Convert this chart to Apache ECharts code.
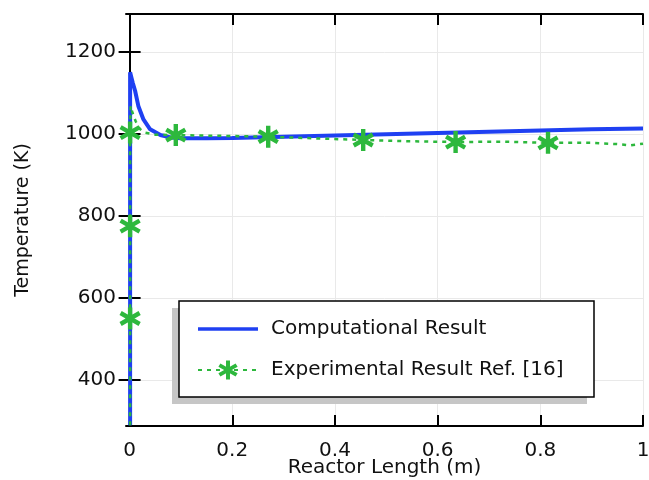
<!DOCTYPE html>
<html>
<head>
<meta charset="utf-8">
<script src="https://cdn.jsdelivr.net/npm/echarts@6/dist/echarts.min.js"></script>
<style>html,body{margin:0;padding:0;background:#fff;}#c{width:649px;height:480px;}</style>
</head>
<body>
<div id="c"></div>
<script>
// Data
var xTicks = [0, 0.2, 0.4, 0.6, 0.8, 1];
var yTicks = [400, 600, 800, 1000, 1200];

var compX = [0.001, 0.001, 0.003, 0.006, 0.0107, 0.017, 0.027, 0.04, 0.06, 0.08, 0.1, 0.15, 0.2, 0.3, 0.4, 0.5, 0.6, 0.7, 0.8, 0.9, 1.0];
var compT = [290, 1150, 1140, 1125, 1105, 1068, 1035, 1011, 997, 991, 989, 989, 990, 993, 996, 999, 1002, 1005, 1008, 1011, 1013];

var expX = [0.001, 0.001, 0.001, 0.001, 0.002, 0.006, 0.012, 0.02, 0.03, 0.05, 0.09, 0.18, 0.27, 0.36, 0.455, 0.545, 0.635, 0.725, 0.815, 0.9, 0.95, 0.975, 1.0];
var expT = [290, 550, 775, 1003, 1068, 1050, 1030, 1012, 1003, 998, 997, 995, 993, 989, 985, 982, 980, 981, 978, 978, 975, 972, 976];
var expMarker = [0, 1, 1, 1, 0, 0, 0, 0, 0, 0, 1, 0, 1, 0, 1, 0, 1, 0, 1, 0, 0, 0, 0];

var seriesNames = ['Computational Result', 'Experimental Result Ref. [16]'];

function zip(a, b) { return a.map(function (v, i) { return [v, b[i]]; }); }

var STAR = 'path://M-2,-10L2,-10L2,10L-2,10Z M7.66,-6.73L9.66,-3.27L-7.66,6.73L-9.66,3.27Z M9.66,3.27L7.66,6.73L-9.66,-3.27L-7.66,-6.73Z';
var LINE_ICON = 'path://M0,0L60,0L60,3.5L0,3.5Z';

var BLUE = '#1f40f2';
var GREEN = '#2db83d';
var FONT = 'DejaVu Sans';
var TXT = '#111';

var chart = echarts.init(document.getElementById('c'), null, {renderer: 'canvas'});

var axisLine = {show: true, lineStyle: {color: '#000', width: 2}};

chart.setOption({
  animation: false,
  backgroundColor: '#fff',
  grid: {left: 126, right: 6, top: 14, bottom: 54, containLabel: false, outerBoundsMode: 'none'},
  xAxis: [{
    type: 'value', min: -0.007, max: 1.0, position: 'bottom',
    name: 'Reactor Length (m)', nameLocation: 'middle', nameGap: 32, nameMoveOverlap: false,
    nameTextStyle: {fontFamily: FONT, fontSize: 20, color: TXT},
    axisLine: axisLine,
    axisTick: {show: true, inside: true, length: 11, customValues: xTicks, lineStyle: {color: '#000', width: 2}},
    axisLabel: {customValues: xTicks, margin: 15, fontFamily: FONT, fontSize: 20, color: TXT,
      formatter: function (v) { return String(Math.round(v * 10) / 10); }},
    splitLine: {show: true, lineStyle: {color: '#e9e9e9', width: 1}}
  }, {
    type: 'value', min: -0.007, max: 1.0, position: 'top',
    axisLine: axisLine,
    axisTick: {show: true, inside: true, length: 11, customValues: xTicks, lineStyle: {color: '#000', width: 2}},
    axisLabel: {show: false}, splitLine: {show: false}
  }],
  yAxis: [{
    type: 'value', min: 288, max: 1292, position: 'left',
    name: 'Temperature (K)', nameLocation: 'middle', nameGap: 93, nameMoveOverlap: false,
    nameTextStyle: {fontFamily: FONT, fontSize: 19, color: TXT},
    axisLine: axisLine,
    axisTick: {show: true, inside: true, length: 11, customValues: yTicks, lineStyle: {color: '#000', width: 2}},
    axisLabel: {customValues: yTicks, margin: 10, fontFamily: FONT, fontSize: 20, color: TXT,
      formatter: function (v) { return String(v); }},
    splitLine: {show: true, lineStyle: {color: '#e9e9e9', width: 1}}
  }, {
    type: 'value', min: 288, max: 1292, position: 'right',
    axisLine: axisLine,
    axisTick: {show: true, inside: true, length: 11, customValues: yTicks, lineStyle: {color: '#000', width: 2}},
    axisLabel: {show: false}, splitLine: {show: false}
  }],
  graphic: [
    {type: 'rect', z: 3, shape: {x: 172, y: 308, width: 415, height: 96}, style: {fill: '#c6c6c6'}},
    {type: 'rect', z: 3, shape: {x: 179, y: 301, width: 415, height: 96}, style: {fill: '#fff', stroke: '#000', lineWidth: 1.5}}
  ],
  legend: {
    z: 10, orient: 'vertical', left: 197, top: 319, padding: 0,
    itemWidth: 60, itemHeight: 24, itemGap: 21,
    textStyle: {fontFamily: FONT, fontSize: 20, color: TXT, padding: [0, 0, 0, 8]},
    data: [{name: seriesNames[0], icon: LINE_ICON}, {name: seriesNames[1]}]
  },
  series: [{
    name: seriesNames[0], type: 'line', xAxisIndex: 0, yAxisIndex: 0,
    data: zip(compX, compT), showSymbol: false, symbol: 'none',
    lineStyle: {color: BLUE, width: 4}, itemStyle: {color: BLUE}, z: 3
  }, {
    name: seriesNames[1], type: 'line', xAxisIndex: 0, yAxisIndex: 0,
    data: zip(expX, expT), symbol: STAR, symbolKeepAspect: true,
    symbolSize: function (v, p) { return (p && expMarker[p.dataIndex]) ? 22 : 0; },
    showAllSymbol: true,
    lineStyle: {color: GREEN, width: 2.5, type: [4, 5]}, itemStyle: {color: GREEN}, z: 4
  }]
});
</script>
</body>
</html>
